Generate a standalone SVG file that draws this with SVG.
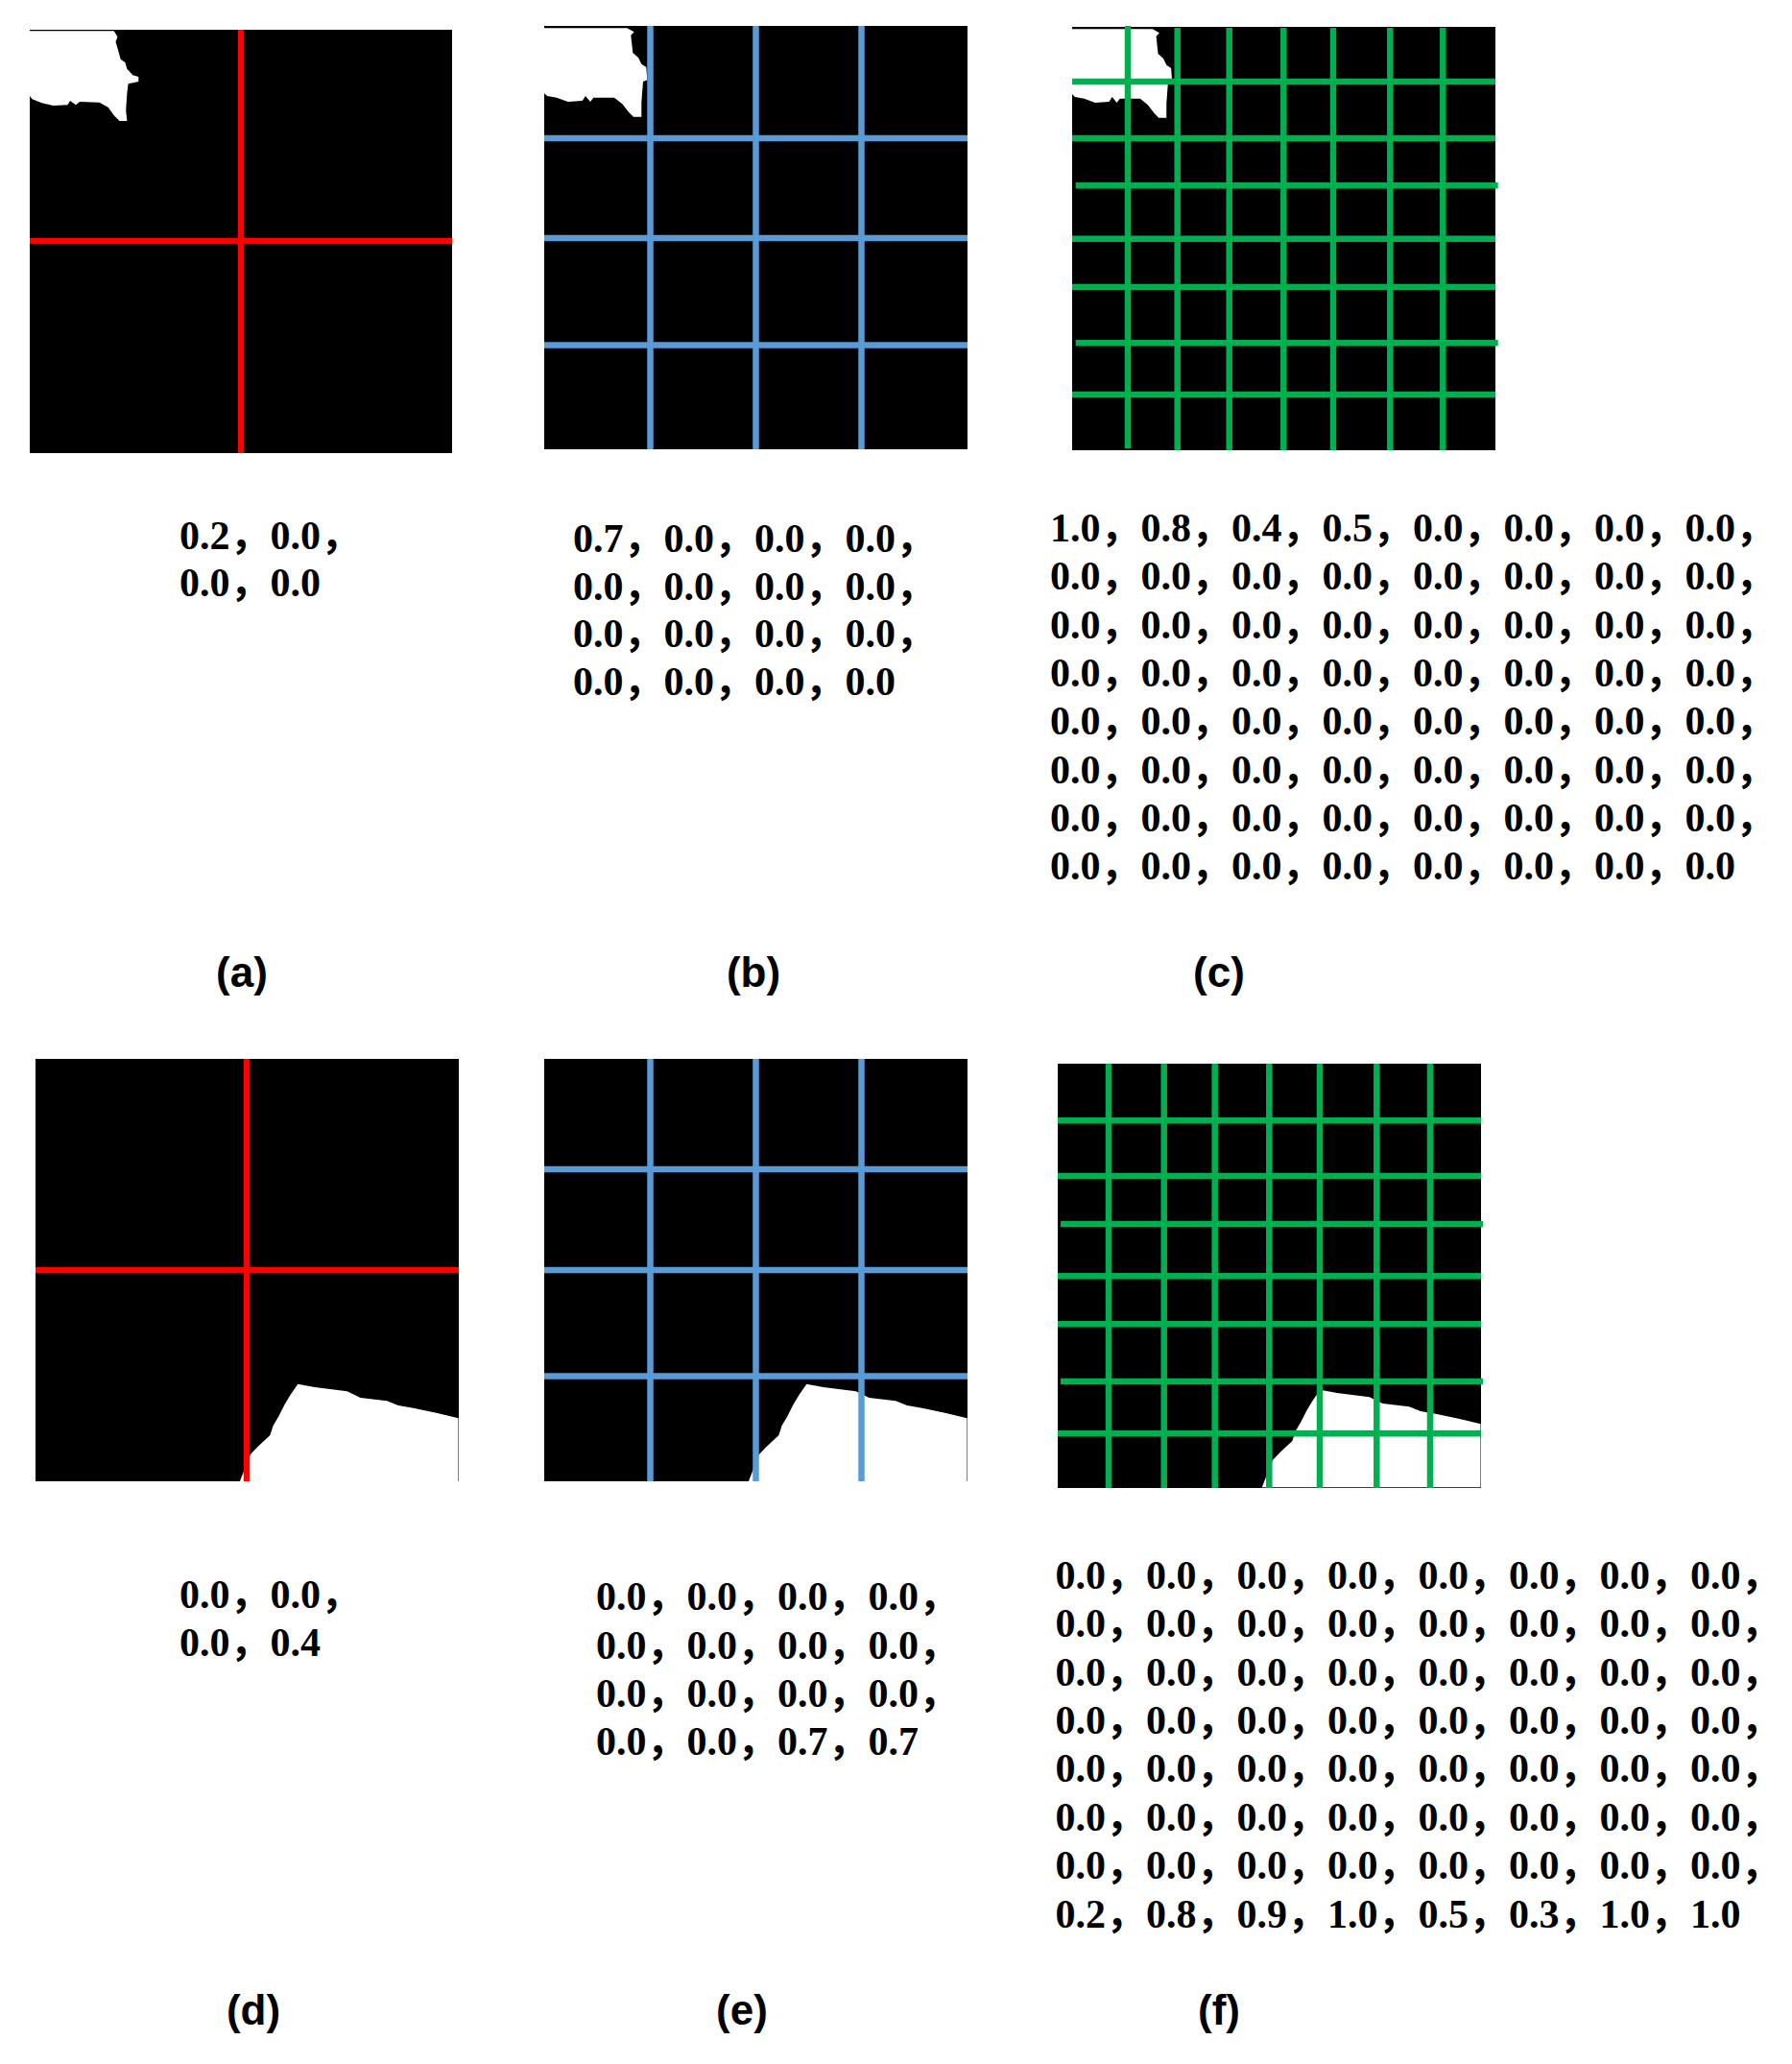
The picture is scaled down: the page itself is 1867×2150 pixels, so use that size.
<svg xmlns="http://www.w3.org/2000/svg" xmlns:xlink="http://www.w3.org/1999/xlink" width="1867" height="2150" viewBox="0 0 1867 2150">
<style>
.bg{fill:#000}
.wh{fill:#fff}
.r{stroke:#FF0000;stroke-width:6.5;fill:none}
.b{stroke:#5B9BD5;stroke-width:6.5;fill:none}
.g{stroke:#00B050;stroke-width:6.5;fill:none}
.num{font-family:"Liberation Serif","Noto Sans CJK SC",serif;font-weight:bold;font-size:42px;fill:#000;letter-spacing:0px}
.lab{font-family:"Liberation Sans","Noto Sans",sans-serif;font-weight:bold;font-size:44px;fill:#000;text-anchor:middle}
</style>
<defs>
<path id="blobTop" d="M-0.3,2.3 L86.3,2.3 L93.7,6.3 L90.3,9.7 L92.3,28 L98,33 L101.3,39.7 L106.3,43 L107.3,56.3 L103,58 L101.3,79.7 L101.3,94.7 L93,94.7 L88,89.7 L81.3,81.3 L73,74.7 L51.3,74.7 L48,79 L43,73 L39.7,78 L24.7,79 L13,74.7 L3,73 L-0.3,69.7 Z"/>
<path id="blobBot" d="M212.8,440.3 L223.9,412 L231.8,403.7 L244.4,392 L247.6,382 L253.5,372 L259.4,360.3 L265.4,350.3 L273.3,338.7 L291,342 L324.7,346.3 L338.5,353 L366.2,356.3 L378,361 L393.8,363.7 L417.5,368.7 L440.5,374.3 L440.5,440.3 Z"/>
</defs>
<rect width="1867" height="2150" fill="#fff"/>

<g id="panel-a">
<rect class="bg" x="31" y="31" width="440" height="441"/>
<path class="wh" d="M31,32.3 L118.6,32.3 L122.5,38.3 L120.5,43.3 L125.7,61.7 L130.4,65 L132.4,71.7 L138.3,78.3 L144.3,80 L144.3,85 L133.6,87.3 L132.4,96.7 L131.2,115 L132.4,126 L124.5,126 L118.6,120 L112.6,111.7 L103.6,106.7 L83,106 L79,109.3 L73.1,105 L70.4,109.3 L55.3,110 L43.5,107.3 L33.6,103.3 L31,100 Z"/>
<line class="r" x1="251" y1="31" x2="251" y2="472"/>
<line class="r" x1="31" y1="251" x2="471" y2="251"/>
<text class="num" x="187" y="572">0.2，0.0，</text>
<text class="num" x="187" y="621">0.0，0.0</text>
<text class="lab" x="252" y="1028">(a)</text>
</g>

<g id="panel-b">
<rect class="bg" x="567" y="27" width="441" height="441"/>
<use xlink:href="#blobTop" class="wh" transform="translate(567,27)"/>
<line class="b" x1="677.5" y1="27" x2="677.5" y2="468"/>
<line class="b" x1="787.5" y1="27" x2="787.5" y2="468"/>
<line class="b" x1="897.5" y1="27" x2="897.5" y2="468"/>
<line class="b" x1="567" y1="144" x2="1008" y2="144"/>
<line class="b" x1="567" y1="248" x2="1008" y2="248"/>
<line class="b" x1="567" y1="359.5" x2="1008" y2="359.5"/>
<text class="num" x="597" y="575">0.7，0.0，0.0，0.0，</text>
<text class="num" x="597" y="625">0.0，0.0，0.0，0.0，</text>
<text class="num" x="597" y="674">0.0，0.0，0.0，0.0，</text>
<text class="num" x="597" y="724">0.0，0.0，0.0，0.0</text>
<text class="lab" x="785" y="1028">(b)</text>
</g>

<g id="panel-c">
<rect class="bg" x="1117" y="28" width="441" height="441"/>
<use xlink:href="#blobTop" class="wh" transform="translate(1117,28) scale(0.97,1)"/>
<line class="g" x1="1175" y1="27" x2="1175" y2="467"/>
<line class="g" x1="1226.7" y1="29" x2="1226.7" y2="469"/>
<line class="g" x1="1280.7" y1="29" x2="1280.7" y2="469"/>
<line class="g" x1="1337.3" y1="29" x2="1337.3" y2="469"/>
<line class="g" x1="1389" y1="29" x2="1389" y2="469"/>
<line class="g" x1="1448.3" y1="29" x2="1448.3" y2="469"/>
<line class="g" x1="1503.3" y1="29" x2="1503.3" y2="469"/>
<line class="g" x1="1117" y1="85" x2="1558" y2="85"/>
<line class="g" x1="1117" y1="144" x2="1558" y2="144"/>
<line class="g" x1="1120.7" y1="193.3" x2="1560.7" y2="193.3"/>
<line class="g" x1="1117" y1="248.7" x2="1558" y2="248.7"/>
<line class="g" x1="1117" y1="299" x2="1558" y2="299"/>
<line class="g" x1="1120.7" y1="357.3" x2="1560.7" y2="357.3"/>
<line class="g" x1="1117" y1="411" x2="1558" y2="411"/>
<text class="num" x="1094" y="564">1.0，0.8，0.4，0.5，0.0，0.0，0.0，0.0，</text>
<text class="num" x="1094" y="614.3">0.0，0.0，0.0，0.0，0.0，0.0，0.0，0.0，</text>
<text class="num" x="1094" y="664.6">0.0，0.0，0.0，0.0，0.0，0.0，0.0，0.0，</text>
<text class="num" x="1094" y="714.9">0.0，0.0，0.0，0.0，0.0，0.0，0.0，0.0，</text>
<text class="num" x="1094" y="765.2">0.0，0.0，0.0，0.0，0.0，0.0，0.0，0.0，</text>
<text class="num" x="1094" y="815.5">0.0，0.0，0.0，0.0，0.0，0.0，0.0，0.0，</text>
<text class="num" x="1094" y="865.8">0.0，0.0，0.0，0.0，0.0，0.0，0.0，0.0，</text>
<text class="num" x="1094" y="916.1">0.0，0.0，0.0，0.0，0.0，0.0，0.0，0.0</text>
<text class="lab" x="1270" y="1028">(c)</text>
</g>

<g id="panel-d">
<rect class="bg" x="37" y="1103" width="441" height="440"/>
<use xlink:href="#blobBot" class="wh" transform="translate(37,1103)"/>
<line class="r" x1="257" y1="1103" x2="257" y2="1543"/>
<line class="r" x1="37" y1="1323" x2="478" y2="1323"/>
<text class="num" x="187" y="1675">0.0，0.0，</text>
<text class="num" x="187" y="1725">0.0，0.4</text>
<text class="lab" x="264" y="2109">(d)</text>
</g>

<g id="panel-e">
<rect class="bg" x="567" y="1103" width="441" height="440"/>
<use xlink:href="#blobBot" class="wh" transform="translate(567,1103)"/>
<line class="b" x1="677.5" y1="1103" x2="677.5" y2="1543"/>
<line class="b" x1="787.5" y1="1103" x2="787.5" y2="1543"/>
<line class="b" x1="897.5" y1="1103" x2="897.5" y2="1543"/>
<line class="b" x1="567" y1="1218" x2="1008" y2="1218"/>
<line class="b" x1="567" y1="1323" x2="1008" y2="1323"/>
<line class="b" x1="567" y1="1433.5" x2="1008" y2="1433.5"/>
<text class="num" x="621" y="1677">0.0，0.0，0.0，0.0，</text>
<text class="num" x="621" y="1728">0.0，0.0，0.0，0.0，</text>
<text class="num" x="621" y="1778">0.0，0.0，0.0，0.0，</text>
<text class="num" x="621" y="1828">0.0，0.0，0.7，0.7</text>
<text class="lab" x="773" y="2109">(e)</text>
</g>

<g id="panel-f">
<rect class="bg" x="1102" y="1108" width="441" height="442"/>
<use xlink:href="#blobBot" class="wh" transform="translate(1102,1109)"/>
<line class="g" x1="1155" y1="1108" x2="1155" y2="1550"/>
<line class="g" x1="1212.7" y1="1108" x2="1212.7" y2="1550"/>
<line class="g" x1="1265.7" y1="1108" x2="1265.7" y2="1550"/>
<line class="g" x1="1322.3" y1="1108" x2="1322.3" y2="1550"/>
<line class="g" x1="1375" y1="1108" x2="1375" y2="1550"/>
<line class="g" x1="1434.3" y1="1108" x2="1434.3" y2="1550"/>
<line class="g" x1="1490" y1="1108" x2="1490" y2="1550"/>
<line class="g" x1="1102" y1="1167.3" x2="1543" y2="1167.3"/>
<line class="g" x1="1102" y1="1225" x2="1543" y2="1225"/>
<line class="g" x1="1105" y1="1275" x2="1545" y2="1275"/>
<line class="g" x1="1102" y1="1329.3" x2="1543" y2="1329.3"/>
<line class="g" x1="1102" y1="1379.3" x2="1543" y2="1379.3"/>
<line class="g" x1="1105" y1="1439" x2="1545" y2="1439"/>
<line class="g" x1="1102" y1="1493.3" x2="1543" y2="1493.3"/>
<text class="num" x="1099.5" y="1655">0.0，0.0，0.0，0.0，0.0，0.0，0.0，0.0，</text>
<text class="num" x="1099.5" y="1705.4">0.0，0.0，0.0，0.0，0.0，0.0，0.0，0.0，</text>
<text class="num" x="1099.5" y="1755.7">0.0，0.0，0.0，0.0，0.0，0.0，0.0，0.0，</text>
<text class="num" x="1099.5" y="1806">0.0，0.0，0.0，0.0，0.0，0.0，0.0，0.0，</text>
<text class="num" x="1099.5" y="1856.4">0.0，0.0，0.0，0.0，0.0，0.0，0.0，0.0，</text>
<text class="num" x="1099.5" y="1906.8">0.0，0.0，0.0，0.0，0.0，0.0，0.0，0.0，</text>
<text class="num" x="1099.5" y="1957">0.0，0.0，0.0，0.0，0.0，0.0，0.0，0.0，</text>
<text class="num" x="1099.5" y="2007.5">0.2，0.8，0.9，1.0，0.5，0.3，1.0，1.0</text>
<text class="lab" x="1270" y="2109">(f)</text>
</g>
</svg>
